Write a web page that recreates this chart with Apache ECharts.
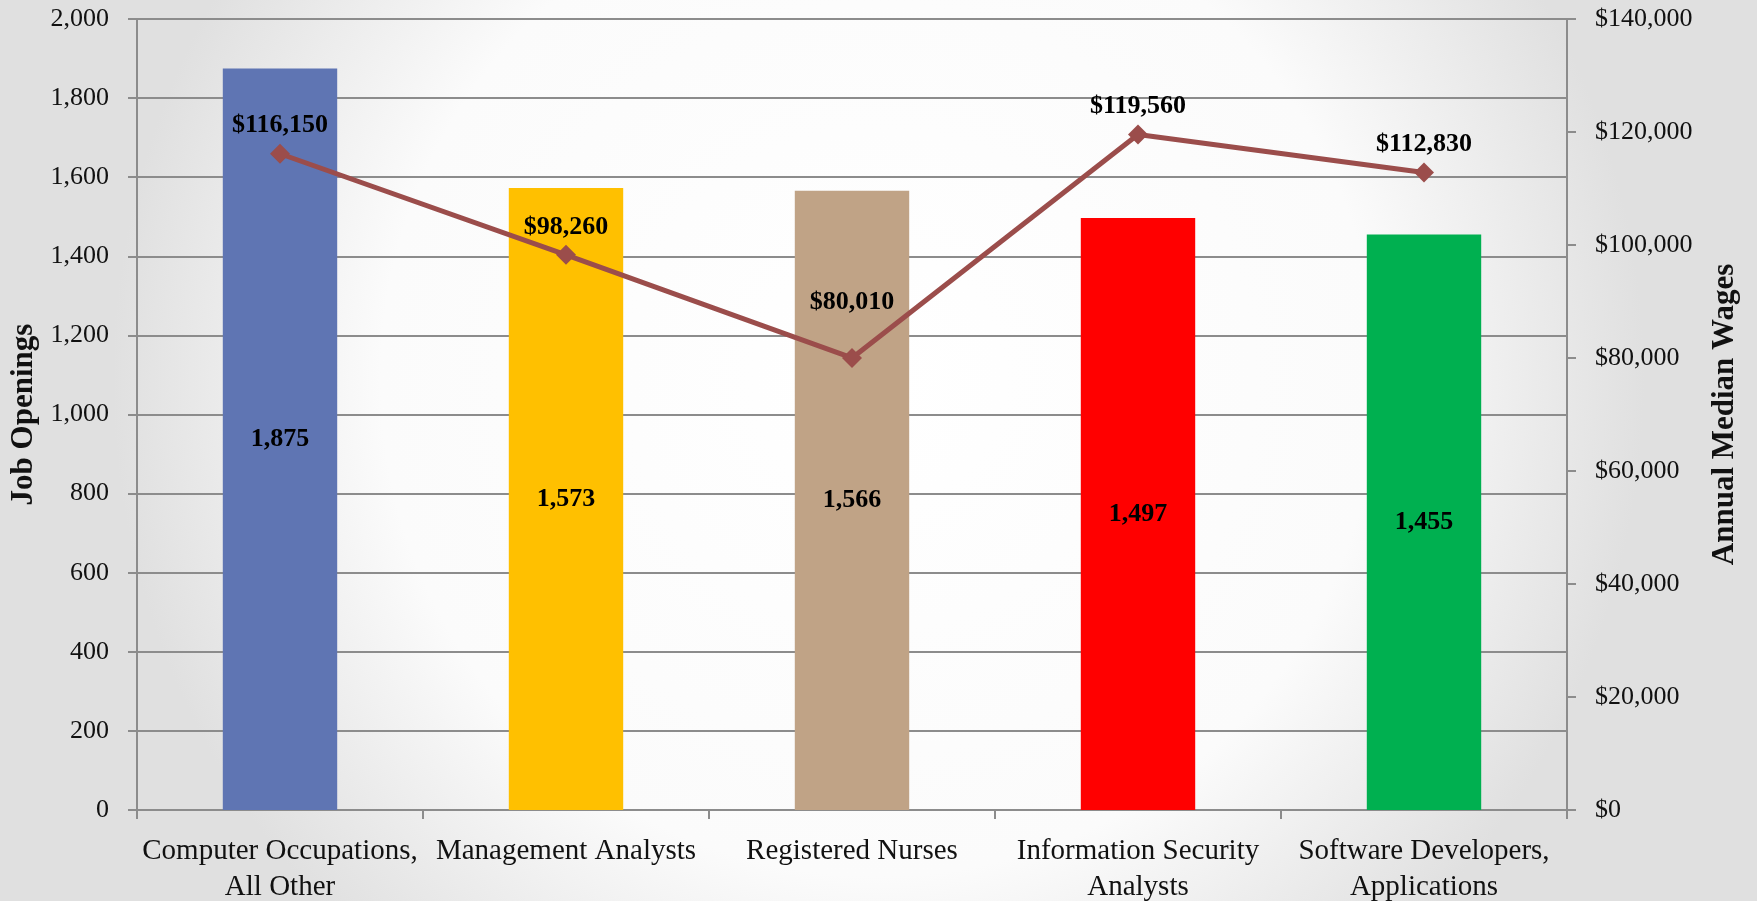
<!DOCTYPE html>
<html>
<head>
<meta charset="utf-8">
<script src="https://cdn.jsdelivr.net/npm/echarts@6/dist/echarts.min.js"></script>
<style>
html,body{margin:0;padding:0;}
#c{width:1757px;height:901px;}
</style>
</head>
<body>
<div id="c"></div>
<script>
const categories = ['Computer Occupations,\nAll Other', 'Management Analysts', 'Registered Nurses', 'Information Security\nAnalysts', 'Software Developers,\nApplications'];
const jobOpenings = [1875, 1573, 1566, 1497, 1455];
const medianWages = [116150, 98260, 80010, 119560, 112830];
const barColors = ['#5f75b3', '#ffc000', '#c0a386', '#ff0000', '#00b050'];
const leftTicks = {min: 0, max: 2000, interval: 200};
const rightTicks = {min: 0, max: 140000, interval: 20000};

const FONT = '"Liberation Serif", "DejaVu Serif", serif';
const fmtNum = v => v.toLocaleString('en-US');
const fmtMoney = v => '$' + v.toLocaleString('en-US');

const chart = echarts.init(document.getElementById('c'));
chart.setOption({
  animation: false,
  backgroundColor: {
    type: 'radial', x: 0.5, y: 0.42, r: 0.85,
    colorStops: [{offset: 0, color: '#ffffff'}, {offset: 0.65, color: '#fbfbfb'}, {offset: 1, color: '#e0e0e0'}]
  },
  textStyle: {fontFamily: FONT},
  grid: {left: 137, right: 190, top: 19, bottom: 91, containLabel: false, outerBoundsMode: 'none'},
  xAxis: {
    type: 'category',
    data: categories,
    axisLine: {lineStyle: {color: '#8c8c8c', width: 2}},
    axisTick: {show: true, length: 9, lineStyle: {color: '#8c8c8c', width: 2}},
    axisLabel: {color: '#111', fontSize: 29, fontFamily: FONT, margin: 23, lineHeight: 36, interval: 0}
  },
  yAxis: [{
    type: 'value',
    min: leftTicks.min, max: leftTicks.max, interval: leftTicks.interval,
    name: 'Job Openings', nameLocation: 'middle', nameGap: 98, nameRotate: 90,
    nameTextStyle: {fontSize: 31, fontWeight: 'bold', color: '#111', fontFamily: FONT},
    axisLine: {show: true, lineStyle: {color: '#8c8c8c', width: 2}},
    axisTick: {show: true, length: 9, lineStyle: {color: '#8c8c8c', width: 2}},
    axisLabel: {color: '#111', fontSize: 26, fontFamily: FONT, margin: 28, formatter: v => fmtNum(v)},
    splitLine: {show: true, lineStyle: {color: '#8c8c8c', width: 2}}
  }, {
    type: 'value',
    min: rightTicks.min, max: rightTicks.max, interval: rightTicks.interval,
    name: 'Annual Median Wages', nameLocation: 'middle', nameGap: 142, nameRotate: 90,
    nameTextStyle: {fontSize: 31, fontWeight: 'bold', color: '#111', fontFamily: FONT},
    position: 'right',
    axisLine: {show: true, lineStyle: {color: '#8c8c8c', width: 2}},
    axisTick: {show: true, length: 9, lineStyle: {color: '#8c8c8c', width: 2}},
    axisLabel: {color: '#111', fontSize: 26, fontFamily: FONT, margin: 28, formatter: v => fmtMoney(v)},
    splitLine: {show: false}
  }],
  series: [{
    type: 'bar',
    yAxisIndex: 0,
    barWidth: '40%',
    data: jobOpenings.map((v, i) => ({value: v, itemStyle: {color: barColors[i]}})),
    label: {show: true, position: 'inside', color: '#000', fontWeight: 'bold', fontSize: 26, fontFamily: FONT, formatter: p => fmtNum(p.value)}
  }, {
    type: 'line',
    yAxisIndex: 1,
    data: medianWages.map((v, i) => ({value: v, label: {distance: i === 2 ? 33 : 5}})),
    symbol: 'diamond',
    symbolSize: 20,
    lineStyle: {color: '#9b4d4b', width: 5},
    itemStyle: {color: '#9b4d4b'},
    label: {show: true, position: 'top', color: '#000', fontWeight: 'bold', fontSize: 26, fontFamily: FONT, formatter: p => fmtMoney(p.value)}
  }]
});
</script>
</body>
</html>
